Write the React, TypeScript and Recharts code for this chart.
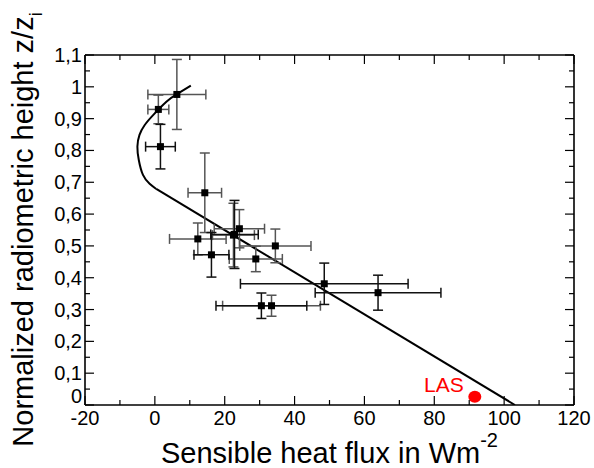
import React from 'react';
import { ComposedChart, XAxis, YAxis, Scatter, Line, ErrorBar } from 'recharts';

// ---- axis ticks ----
const xTicks = [-20, -10, 0, 10, 20, 30, 40, 50, 60, 70, 80, 90, 100, 110, 120];
const xMajorTicks = [-20, 0, 20, 40, 60, 80, 100, 120];
const xTickLabels = ['-20', '0', '20', '40', '60', '80', '100', '120'];
const yTicks = [0, 0.05, 0.1, 0.15, 0.2, 0.25, 0.3, 0.35, 0.4, 0.45, 0.5, 0.55, 0.6, 0.65, 0.7, 0.75, 0.8, 0.85, 0.9, 0.95, 1.0, 1.05, 1.1];
const yMajorTicks = [0, 0.1, 0.2, 0.3, 0.4, 0.5, 0.6, 0.7, 0.8, 0.9, 1.0, 1.1];
const yTickLabels = ['0', '0,1', '0,2', '0,3', '0,4', '0,5', '0,6', '0,7', '0,8', '0,9', '1', '1,1'];

// ---- measurements ----
const fluxX = [6.3, 1.0, 1.6, 14.3, 12.3, 16.2, 22.8, 22.5, 24.2, 34.5, 28.9, 48.5, 63.9, 30.5, 33.4];
const heightY = [0.976, 0.929, 0.812, 0.667, 0.522, 0.472, 0.536, 0.534, 0.554, 0.5, 0.459, 0.381, 0.353, 0.312, 0.312];
const fluxErr = [8.3, 3.0, 4.25, 4.8, 8.1, 5.0, 6.8, 6.0, 7.2, 10.2, 7.6, 24.0, 18.0, 13.0, 14.0];
const heightErr = [0.11, 0.045, 0.07, 0.125, 0.05, 0.07, 0.107, 0.1, 0.06, 0.053, 0.04, 0.065, 0.055, 0.04, 0.033];
const darkErrorBars = [false, false, true, false, false, true, true, false, false, false, false, true, true, true, false];

// ---- fitted profile ----
const profileCurveX = [10.3, 6.2, 3.3, -0.5, -2.9, -4.4, -5.0, -4.6, -3.4, -1.5, 0.4];
const profileCurveY = [1.004, 0.976, 0.953, 0.911, 0.88, 0.849, 0.812, 0.77, 0.723, 0.695, 0.679];
const profileLineX = [0.4, 103.1];
const profileLineY = [0.679, 0];

// ---- LAS ----
const lasX = [91.6];
const lasY = [0.026];
const lasLabel = 'LAS';

const FONT = '"Liberation Sans", Arial, Helvetica, sans-serif';

const points = fluxX.map((x, i) => ({ x, y: heightY[i], ex: fluxErr[i], ey: heightErr[i], dark: darkErrorBars[i] }));
const darkPoints = points.filter((p) => p.dark);
const grayPoints = points.filter((p) => !p.dark);
const curveData = profileCurveX.map((x, i) => ({ x, y: profileCurveY[i] }));
const lineData = profileLineX.map((x, i) => ({ x, y: profileLineY[i] }));
const lasData = lasX.map((x, i) => ({ x, y: lasY[i], label: lasLabel }));

const isMajor = (arr: number[], v: number) => arr.findIndex((m) => Math.abs(m - v) < 1e-6);

const BottomTick = (props: any) => {
  const { x, y, payload } = props;
  const idx = isMajor(xMajorTicks, payload.value);
  const len = idx >= 0 ? 9 : 5;
  return (
    <g>
      <line x1={x} y1={y} x2={x} y2={y - len} stroke="#000" strokeWidth={1.2} />
      {idx >= 0 && (
        <text x={x} y={y + 20} textAnchor="middle" fontSize={20} fontFamily={FONT} fill="#000">
          {xTickLabels[idx]}
        </text>
      )}
    </g>
  );
};

const TopTick = (props: any) => {
  const { x, y, payload } = props;
  const idx = isMajor(xMajorTicks, payload.value);
  const len = idx >= 0 ? 9 : 5;
  return <line x1={x} y1={y} x2={x} y2={y + len} stroke="#000" strokeWidth={1.2} />;
};

const LeftTick = (props: any) => {
  const { x, y, payload } = props;
  const idx = isMajor(yMajorTicks, payload.value);
  const len = idx >= 0 ? 9 : 5;
  const isZero = idx === 0;
  return (
    <g>
      <line x1={x} y1={y} x2={x + len} y2={y} stroke="#000" strokeWidth={1.2} />
      {idx >= 0 && (
        <text x={x - 3} y={y + (isZero ? -2 : 7)} textAnchor="end" fontSize={20} fontFamily={FONT} fill="#000">
          {yTickLabels[idx]}
        </text>
      )}
    </g>
  );
};

const RightTick = (props: any) => {
  const { x, y, payload } = props;
  const idx = isMajor(yMajorTicks, payload.value);
  const len = idx >= 0 ? 9 : 5;
  return <line x1={x} y1={y} x2={x - len} y2={y} stroke="#000" strokeWidth={1.2} />;
};

const XLabel = () => (
  <text x={329.5} y={463} textAnchor="middle" fontSize={29} fontFamily={FONT} fill="#000">
    Sensible heat flux in Wm
    <tspan fontSize={20} dy={-16}>-2</tspan>
  </text>
);

const YLabel = () => (
  <text
    x={0}
    y={0}
    transform="translate(33,229.5) rotate(-90)"
    textAnchor="middle"
    fontSize={29}
    fontFamily={FONT}
    fill="#000"
  >
    Normalized radiometric height z/z
    <tspan fontSize={18} dy={9}>i</tspan>
  </text>
);

const SquareShape = (props: any) => {
  const { cx, cy } = props;
  return <rect x={cx - 3.5} y={cy - 3.5} width={7} height={7} fill="#000" />;
};

const NoShape = () => <g />;

const LasShape = (props: any) => {
  const { cx, cy, payload } = props;
  return (
    <g>
      <ellipse cx={cx} cy={cy} rx={6.5} ry={6} fill="#ff0000" />
      <text x={cx - 11} y={cy - 4.5} textAnchor="end" fontSize={21} fontFamily={FONT} fill="#ff0000">
        {payload.label}
      </text>
    </g>
  );
};

const axisLineStyle = { stroke: '#000', strokeWidth: 1.6 };

export default function App() {
  return (
    <div style={{ position: 'absolute', left: 0, top: 0, background: '#fff' }}>
      <ComposedChart width={594} height={468} margin={{ top: 54, right: 19, bottom: 0, left: 0 }}>
        <XAxis
          xAxisId={0}
          type="number"
          dataKey="x"
          domain={[-20, 120]}
          ticks={xTicks}
          interval={0}
          allowDataOverflow
          tickSize={0}
          tickMargin={0}
          tickLine={false}
          axisLine={axisLineStyle}
          tick={<BottomTick />}
          height={63}
          label={<XLabel />}
        />
        <XAxis
          xAxisId="top"
          orientation="top"
          type="number"
          dataKey="x"
          domain={[-20, 120]}
          ticks={xTicks}
          interval={0}
          allowDataOverflow
          tickSize={0}
          tickMargin={0}
          tickLine={false}
          axisLine={axisLineStyle}
          tick={<TopTick />}
          height={1}
        />
        <YAxis
          yAxisId={0}
          type="number"
          dataKey="y"
          domain={[0, 1.1]}
          ticks={yTicks}
          interval={0}
          allowDataOverflow
          tickSize={0}
          tickMargin={0}
          tickLine={false}
          axisLine={axisLineStyle}
          tick={<LeftTick />}
          width={85}
          label={<YLabel />}
        />
        <YAxis
          yAxisId="right"
          orientation="right"
          type="number"
          dataKey="y"
          domain={[0, 1.1]}
          ticks={yTicks}
          interval={0}
          allowDataOverflow
          tickSize={0}
          tickMargin={0}
          tickLine={false}
          axisLine={axisLineStyle}
          tick={<RightTick />}
          width={1}
        />
        <Line
          data={curveData}
          dataKey="y"
          type="natural"
          stroke="#000"
          strokeWidth={2}
          dot={false}
          activeDot={false}
          isAnimationActive={false}
        />
        <Line
          data={lineData}
          dataKey="y"
          type="linear"
          stroke="#000"
          strokeWidth={2}
          dot={false}
          activeDot={false}
          isAnimationActive={false}
        />
        <Scatter data={grayPoints} dataKey="y" shape={<SquareShape />} isAnimationActive={false}>
          <ErrorBar dataKey="ex" direction="x" width={5} stroke="#555" strokeWidth={1.5} />
          <ErrorBar dataKey="ey" direction="y" width={5} stroke="#555" strokeWidth={1.5} />
        </Scatter>
        <Scatter data={darkPoints} dataKey="y" shape={<SquareShape />} isAnimationActive={false}>
          <ErrorBar dataKey="ex" direction="x" width={5} stroke="#111" strokeWidth={1.5} />
          <ErrorBar dataKey="ey" direction="y" width={5} stroke="#111" strokeWidth={1.5} />
        </Scatter>
        <Scatter data={lasData} dataKey="y" shape={<LasShape />} isAnimationActive={false} />
        <Scatter
          data={lasData}
          dataKey="y"
          xAxisId="top"
          yAxisId="right"
          shape={<NoShape />}
          isAnimationActive={false}
        />
      </ComposedChart>
    </div>
  );
}
